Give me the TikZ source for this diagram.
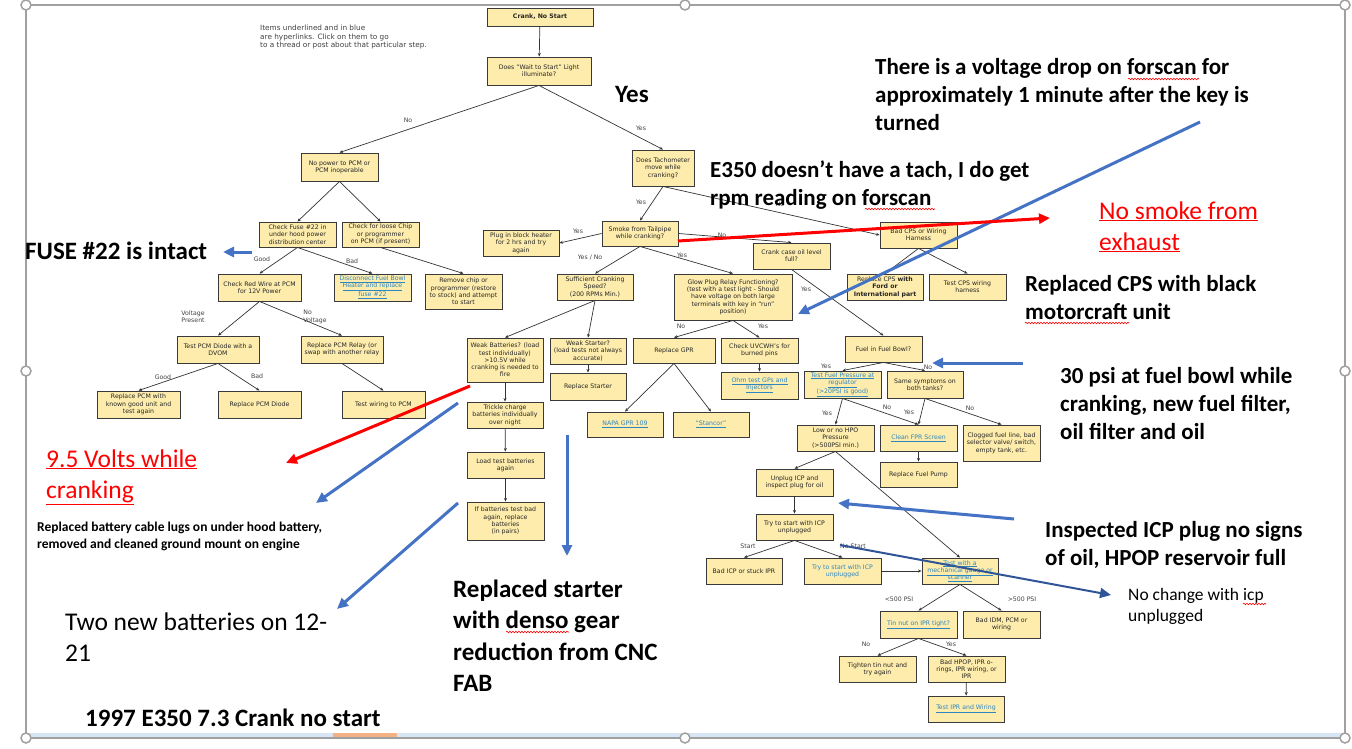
\documentclass[tikz,border=0pt]{standalone}
\usepackage{fontspec}
\setmainfont{DejaVu Sans}
\newfontfamily\notefont{Carlito}
\usetikzlibrary{arrows.meta}
\usetikzlibrary{shadows}
\usetikzlibrary{decorations.pathmorphing}
\definecolor{boxfill}{RGB}{253,236,172}
\definecolor{boxline}{RGB}{58,58,58}
\definecolor{linkblue}{RGB}{46,134,193}
\definecolor{noteblue}{RGB}{68,114,196}
\definecolor{darkblue}{RGB}{47,85,151}
\definecolor{notered}{RGB}{255,0,0}
\definecolor{framegrey}{RGB}{160,160,160}
\definecolor{labelgrey}{RGB}{64,64,64}
\definecolor{barblue}{RGB}{214,230,244}
\definecolor{barorange}{RGB}{244,177,131}
\newcommand*{\chartfont}{\fontsize{6.2}{7.3}\selectfont}
\newcommand*{\lnk}[1]{\textcolor{linkblue}{\underline{#1}}}
\tikzstyle{box}=[draw=boxline, fill=boxfill, line width=0.9pt, align=center, inner sep=1pt, minimum width=77pt, minimum height=26pt, font=\chartfont, text=black!85, drop shadow={shadow xshift=1pt, shadow yshift=-1pt, opacity=0.3}]
\tikzstyle{lbl}=[font=\chartfont, text=labelgrey, inner sep=0pt, align=center]
\tikzstyle{flow}=[draw=black!80, line width=0.7pt, -{Stealth[length=3.5pt, width=3pt]}]
\tikzstyle{note}=[font=\notefont\fontsize{23}{28}\selectfont\bfseries, anchor=base west, align=left, inner sep=0pt]
\tikzstyle{bignote}=[note, font=\notefont\fontsize{25}{31.5}\selectfont\bfseries]
\tikzstyle{plainnote}=[note, font=\notefont\fontsize{25.5}{31}\selectfont]
\tikzstyle{rednote}=[plainnote, text=notered]
\tikzstyle{smallnote}=[note, font=\notefont\fontsize{17.5}{21.5}\selectfont]
\tikzstyle{tinynote}=[note, font=\notefont\fontsize{13.5}{17}\selectfont\bfseries]
\tikzstyle{bluearrow}=[draw=noteblue, line width=3pt, -{Triangle[length=11pt, width=10pt]}]
\tikzstyle{redarrow}=[bluearrow, draw=notered]
\tikzstyle{handle}=[draw=framegrey, fill=white, line width=1.5pt]
\tikzstyle{squiggle}=[draw=notered, line width=0.6pt, decorate, decoration={snake, amplitude=0.8pt, segment length=3pt}]

\begin{document}
\begin{tikzpicture}[x=1pt, y=-1pt]
    \useasboundingbox (0,0) rectangle (1352,749);
    \draw [barblue, line width=3.5pt] (26,735) -- (1345,735);
    \draw [barorange, line width=3.5pt] (333,735) -- (397,735);
    \draw [framegrey, line width=1.2pt] (26,5) rectangle (1345,738);
    \foreach \hx/\hy in {26/5, 685/5, 1345/5, 26/371, 1345/371, 26/738, 685/738, 1345/738}
        \draw [handle] (\hx,\hy) circle (5);

    \node [lbl, font=\fontsize{7.3}{8.3}\selectfont, align=left, anchor=north west] (legend) at (260,25) {Items underlined and in blue\\are hyperlinks. Click on them to go\\to a thread or post about that particular step.};

    \node [box, minimum width=106, minimum height=18] (crank) at (540,17) {\textbf{Crank, No Start}};
    \node [box, minimum width=104, minimum height=28] (wait) at (539,71) {Does ``Wait to Start'' Light\\illuminate?};
    \node [box, minimum height=28] (nopower) at (339.5,167) {No power to PCM or\\PCM inoperable};
    \node [box, minimum width=62, minimum height=36] (tacho) at (663,168) {Does Tachometer\\move while\\cranking?};
    \node [box, minimum height=25] (checkfuse) at (297.5,234.5) {Check Fuse \#22 in\\under hood power\\distribution center};
    \node [box, minimum height=25] (checkchip) at (380.5,234.5) {Check for loose Chip\\or programmer\\on PCM (if present)};
    \node [box, minimum width=76, minimum height=25] (smoke) at (640,233.5) {Smoke from Tailpipe\\while cranking?};
    \node [box, minimum width=76] (plug) at (521,243) {Plug in block heater\\for 2 hrs and try\\again};
    \node [box, minimum width=83, minimum height=27] (redwire) at (259.5,287.5) {Check Red Wire at PCM\\for 12V Power};
    \node [box, minimum height=27] (disconnect) at (372.5,287.5) {\lnk{Disconnect Fuel Bowl}\\\lnk{Heater and replace}\\\lnk{fuse \#22}};
    \node [box, minimum height=35] (remove) at (463.5,291.5) {Remove chip or\\programmer (restore\\to stock) and attempt\\to start};
    \node [box, minimum width=76] (sufficient) at (595,287) {Sufficient Cranking\\Speed?\\(200 RPMs Min.)};
    \node [box, minimum width=118, minimum height=46] (glowplug) at (733,297) {Glow Plug Relay Functioning?\\(test with a test light - Should\\have voltage on both large\\terminals with key in ``run''\\position)};
    \node [box] (crankcase) at (791.5,256) {Crank case oil level\\full?};
    \node [box] (badcps) at (918.5,235) {Bad CPS or Wiring\\Harness};
    \node [box, minimum width=76] (replacecps) at (885,287) {Replace CPS \textbf{with}\\\textbf{Ford or}\\\textbf{International part}};
    \node [box] (testcps) at (967.5,287) {Test CPS wiring\\harness};
    \node [box, minimum width=82, minimum height=27] (testdiode) at (218,349.5) {Test PCM Diode with a\\DVOM};
    \node [box, minimum width=82, minimum height=27] (replacerelay) at (342,349.5) {Replace PCM Relay (or\\swap with another relay};
    \node [box, minimum width=83, minimum height=27] (replacepcm) at (138.5,404.5) {Replace PCM with\\known good unit and\\test again};
    \node [box, minimum width=83, minimum height=27] (replacediode) at (259.5,404.5) {Replace PCM Diode};
    \node [box, minimum width=83, minimum height=27] (testwiring) at (383.5,404.5) {Test wiring to PCM};
    \node [box, minimum width=76, minimum height=44] (weakbatt) at (505,360) {Weak Batteries? (load\\test individually)\\>10.5V while\\cranking is needed to\\fire};
    \node [box, minimum width=76] (weakstarter) at (588,351) {Weak Starter?\\(load tests not always\\accurate)};
    \node [box, minimum width=76, minimum height=27] (replacestarter) at (588,386.5) {Replace Starter};
    \node [box, minimum width=82, minimum height=25] (replacegpr) at (674,350.5) {Replace GPR};
    \node [box, minimum height=25] (checkuvcwh) at (759.5,350.5) {Check UVCWH's for\\burned pins};
    \node [box, minimum height=27] (ohmtest) at (759.5,385.5) {\lnk{Ohm test GPs and}\\\lnk{Injectors}};
    \node [box, minimum width=76, minimum height=25] (napa) at (625,424.5) {\lnk{NAPA GPR 109}};
    \node [box, minimum width=76, minimum height=25] (stancor) at (711,424.5) {\lnk{``Stancor''}};
    \node [box, minimum width=76] (trickle) at (505,415) {Trickle charge\\batteries individually\\over night};
    \node [box] (loadtest) at (505.5,465) {Load test batteries\\again};
    \node [box, minimum height=38] (ifbad) at (505.5,521) {If batteries test bad\\again, replace\\batteries\\(in pairs)};
    \node [box] (fuelbowl) at (883.5,349) {Fuel in Fuel Bowl?};
    \node [box, minimum height=27] (testfuel) at (842.5,384.5) {\lnk{Test Fuel Pressure at}\\\lnk{regulator}\\\lnk{(>20PSI is good)}};
    \node [box, minimum width=76, minimum height=27] (same) at (925,384.5) {Same symptoms on\\both tanks?};
    \node [box] (lowhpo) at (835.5,438) {Low or no HPO\\Pressure\\(>500PSI min.)};
    \node [box] (cleanfpr) at (918.5,438) {\lnk{Clean FPR Screen}};
    \node [box, minimum height=36] (clogged) at (1001.5,443) {Clogged fuel line, bad\\selector valve/ switch,\\empty tank, etc.};
    \node [box, minimum height=25] (replacepump) at (918.5,474.5) {Replace Fuel Pump};
    \node [box, minimum height=27] (unplug) at (794.5,482.5) {Unplug ICP and\\inspect plug for oil};
    \node [box] (trystart) at (794.5,527) {Try to start with ICP\\unplugged};
    \node [box, minimum width=76] (badicp) at (744,571) {Bad ICP or stuck IPR};
    \node [box] (trystarttwo) at (842.5,571) {\textcolor{linkblue}{Try to start with ICP}\\\textcolor{linkblue}{unplugged}};
    \node [box, minimum width=76] (testgauge) at (960,571) {\lnk{Test with a}\\\lnk{mechanical gauge or}\\\lnk{scanner}};
    \node [box, minimum height=27] (tinnut) at (918.5,624.5) {\lnk{Tin nut on IPR tight?}};
    \node [box, minimum height=27] (badidm) at (1001.5,624.5) {Bad IDM, PCM or\\wiring};
    \node [box] (tighten) at (877.5,669) {Tighten tin nut and\\try again};
    \node [box] (badhpop) at (966.5,669) {Bad HPOP, IPR o-\\rings, IPR wiring, or\\IPR};
    \node [box, minimum width=76] (testipr) at (966,709) {\lnk{Test IPR and Wiring}};

    \draw [flow] (crank) -- (wait);
    \draw [flow] (wait.south) -- (nopower.north);
    \draw [flow] (wait.south) -- (tacho.north);
    \draw [flow] (nopower.south) -- (checkfuse.north);
    \draw [flow] (nopower.south) -- (checkchip.north);
    \draw [flow] (tacho.south) -- (smoke.north);
    \draw [flow] (tacho.south) -- (badcps.west);
    \draw [flow] (smoke.west) -- (plug.east);
    \draw [flow] (smoke.east) -- (crankcase.north);
    \draw [flow] (smoke.south) -- (sufficient.north);
    \draw [flow] (smoke.south) -- (glowplug.north);
    \draw [flow] (checkfuse.south) -- (redwire.north);
    \draw [flow] (checkfuse.south) -- (disconnect.north);
    \draw [flow] (checkchip.south) -- (remove.north);
    \draw [flow] (redwire.south) -- (testdiode.north);
    \draw [flow] (redwire.south) -- (replacerelay.north);
    \draw [flow] (testdiode.south) -- (replacepcm.north);
    \draw [flow] (testdiode.south) -- (replacediode.north);
    \draw [flow] (replacerelay.south) -- (testwiring.north);
    \draw [flow] (sufficient.south) -- (weakbatt.north);
    \draw [flow] (sufficient.south) -- (weakstarter.north);
    \draw [flow] (weakstarter) -- (replacestarter);
    \draw [flow] (weakbatt) -- (trickle);
    \draw [flow] (trickle) -- (loadtest);
    \draw [flow] (loadtest) -- (ifbad);
    \draw [flow] (glowplug.south) -- (replacegpr.north);
    \draw [flow] (glowplug.south) -- (checkuvcwh.north);
    \draw [flow] (checkuvcwh) -- (ohmtest);
    \draw [flow] (replacegpr.south) -- (napa.north);
    \draw [flow] (replacegpr.south) -- (stancor.north);
    \draw [flow] (badcps.south) -- (replacecps.north);
    \draw [flow] (badcps.south) -- (testcps.north);
    \draw [flow] (crankcase.south) -- (fuelbowl.north);
    \draw [flow] (fuelbowl.south) -- (testfuel.north);
    \draw [flow] (fuelbowl.south) -- (same.north);
    \draw [flow] (testfuel.south) -- (lowhpo.north);
    \draw [flow] (testfuel.south) -- (cleanfpr.north);
    \draw [flow] (same.south) -- (cleanfpr.north);
    \draw [flow] (same.south) -- (clogged.north);
    \draw [flow] (cleanfpr) -- (replacepump);
    \draw [flow] (lowhpo.south) -- (unplug.north);
    \draw [flow] (lowhpo.south) -- (testgauge.north);
    \draw [flow] (unplug) -- (trystart);
    \draw [flow] (trystart.south) -- (badicp.north);
    \draw [flow] (trystart.south) -- (trystarttwo.north);
    \draw [flow] (trystarttwo) -- (testgauge);
    \draw [flow] (testgauge.south) -- (tinnut.north);
    \draw [flow] (testgauge.south) -- (badidm.north);
    \draw [flow] (tinnut.south) -- (tighten.north);
    \draw [flow] (tinnut.south) -- (badhpop.north);
    \draw [flow] (badhpop) -- (testipr);

    \node [lbl] (waitno) at (408,120) {No};
    \node [lbl] (waityes) at (641,128) {Yes};
    \node [lbl] (tachoyes) at (641,202) {Yes};
    \node [lbl] (tachono) at (780,204) {No};
    \node [lbl] (smokeyes) at (578,231) {Yes};
    \node [lbl] (smokeno) at (722,235) {No};
    \node [lbl] (smokeyesno) at (590,258) {Yes / No};
    \node [lbl] (smokeglow) at (682,255) {Yes};
    \node [lbl] (fusegood) at (262,259) {Good};
    \node [lbl] (fusebad) at (352,261) {Bad};
    \node [lbl] (voltyes) at (193,317) {Voltage\\Present};
    \node [lbl, align=left] (voltno) at (315,317) {No\\Voltage};
    \node [lbl] (diodegood) at (163,377) {Good};
    \node [lbl] (diodebad) at (257,376) {Bad};
    \node [lbl] (crankyes) at (806,289) {Yes};
    \node [lbl] (glowno) at (681,326) {No};
    \node [lbl] (glowyes) at (763,326) {Yes};
    \node [lbl] (bowlyes) at (826,366) {Yes};
    \node [lbl] (bowlno) at (928,367) {No};
    \node [lbl] (pressyes) at (827,413) {Yes};
    \node [lbl] (pressno) at (887,407) {No};
    \node [lbl] (sameyes) at (909,412) {Yes};
    \node [lbl] (sameno) at (970,408) {No};
    \node [lbl] (trystartok) at (748,546) {Start};
    \node [lbl] (trystartno) at (853,546) {No Start};
    \node [lbl] (gaugelow) at (899,599) {<500 PSI};
    \node [lbl] (gaugehigh) at (1022,599) {>500 PSI};
    \node [lbl] (tinno) at (866,644) {No};
    \node [lbl] (tinyes) at (951,644) {Yes};

    \node [bignote] (yesnote) at (615,103) {Yes};
    \node [note] (voltnote) at (875,131) {There is a voltage drop on forscan for\\approximately 1 minute after the key is\\turned};
    \node [note] (tachnote) at (710,205) {E350 doesn’t have a tach, I do get\\rpm reading on forscan};
    \node [rednote] (smokenote) at (1099,250) {\underline{No smoke from}\\\underline{exhaust}};
    \node [note] (cpsnote) at (1025,319) {Replaced CPS with black\\motorcraft unit};
    \node [note] (fuelnote) at (1060,439) {30 psi at fuel bowl while\\cranking, new fuel filter,\\oil filter and oil};
    \node [note] (icpnote) at (1045,565) {Inspected ICP plug no signs\\of oil, HPOP reservoir full};
    \node [smallnote] (changenote) at (1128,621.5) {No change with icp\\unplugged};
    \node [rednote] (voltsnote) at (46,498) {\underline{9.5 Volts while}\\\underline{cranking}};
    \node [tinynote] (lugsnote) at (37,548) {Replaced battery cable lugs on under hood battery,\\removed and cleaned ground mount on engine};
    \node [plainnote] (battnote) at (65,661) {Two new batteries on 12-\\21};
    \node [bignote] (starternote) at (453,691.5) {Replaced starter\\with denso gear\\reduction from CNC\\FAB};
    \node [bignote] (titlenote) at (85,726) {1997 E350 7.3 Crank no start};
    \node [bignote] (fusenote) at (25,259) {FUSE \#22 is intact};

    \draw [squiggle] (1128,79) -- (1199,79);
    \draw [squiggle] (865,209) -- (935,209);
    \draw [squiggle] (1025,323) -- (1129,323);
    \draw [squiggle] (506,632) -- (569,632);
    \draw [squiggle] (1243,604) -- (1266,604);

    \coordinate (voltfrom) at (1200,122);
    \coordinate (voltto) at (798,314);
    \coordinate (smokefrom) at (678,241);
    \coordinate (smoketo) at (1050,218);
    \coordinate (fusefrom) at (252,252);
    \coordinate (fuseto) at (223,252);
    \coordinate (bowlfrom) at (1023,363);
    \coordinate (bowlto) at (932,363);
    \coordinate (icpfrom) at (1014,519);
    \coordinate (icpto) at (838,503);
    \coordinate (changefrom) at (840,545);
    \coordinate (changeto) at (1111,595);
    \coordinate (voltsfrom) at (470,386);
    \coordinate (voltsto) at (286,463);
    \coordinate (lugsfrom) at (458,403);
    \coordinate (lugsto) at (316,503);
    \coordinate (battfrom) at (458,503);
    \coordinate (battto) at (337,609);
    \coordinate (starterfrom) at (567,435);
    \coordinate (starterto) at (567,556);
    \draw [bluearrow] (voltfrom) -- (voltto);
    \draw [redarrow] (smokefrom) -- (smoketo);
    \draw [bluearrow] (fusefrom) -- (fuseto);
    \draw [bluearrow] (bowlfrom) -- (bowlto);
    \draw [bluearrow] (icpfrom) -- (icpto);
    \draw [bluearrow, draw=darkblue, line width=2pt] (changefrom) -- (changeto);
    \draw [redarrow] (voltsfrom) -- (voltsto);
    \draw [bluearrow] (lugsfrom) -- (lugsto);
    \draw [bluearrow] (battfrom) -- (battto);
    \draw [bluearrow] (starterfrom) -- (starterto);
\end{tikzpicture}
\end{document}
